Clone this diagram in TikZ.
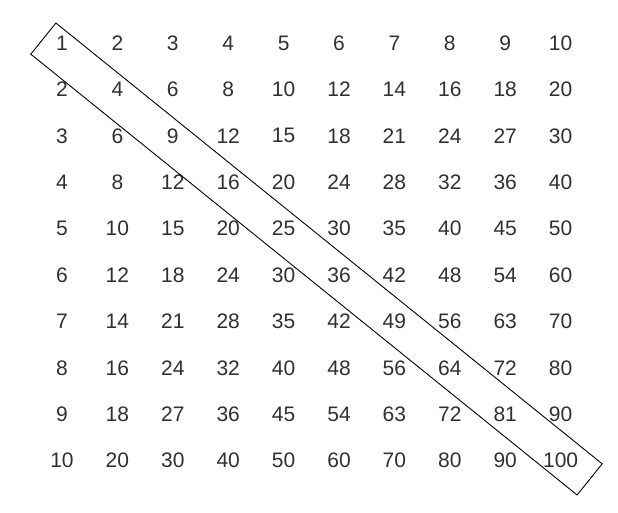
\documentclass[tikz,border=0pt]{standalone}
\usepackage{fontspec}
\setmainfont{Liberation Sans}
\definecolor{digit}{HTML}{303030}
\begin{document}
\begin{tikzpicture}[x=1pt, y=-1pt,
    cell/.style={text=digit, font=\fontsize{21}{21}\selectfont, inner sep=0pt},
    band/.style={draw, line width=0.9pt, rotate=-38.9, inner sep=0pt,
      minimum width=702pt, minimum height=40pt}]
    \useasboundingbox (0, 0) rectangle (618, 513);
    \foreach \r in {1,...,10} {
      \foreach \c in {1,...,10} {
        \pgfmathtruncatemacro{\prod}{\r*\c}
        \node [cell] (c-\r-\c) at ({62 + 55.4*(\c-1)}, {43 + 46.4*(\r-1)}) {\prod};
      }
    }
    \node [band] (diag) at (316.5, 259) {};
  \end{tikzpicture}
\end{document}
